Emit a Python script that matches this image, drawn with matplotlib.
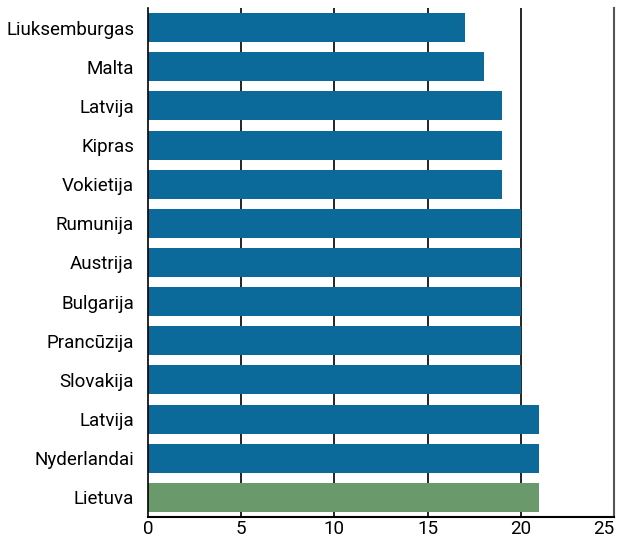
import matplotlib.pyplot as plt

# data, top to bottom
countries = ["Liuksemburgas", "Malta", "Latvija", "Kipras", "Vokietija",
             "Rumunija", "Austrija", "Bulgarija", "Prancūzija", "Slovakija",
             "Latvija", "Nyderlandai", "Lietuva"]
values = [17, 18, 19, 19, 19, 20, 20, 20, 20, 20, 21, 21, 21]
highlight = "Lietuva"

blue = "#0c6a9b"
green = "#6a9a6b"

plt.rcParams['font.family'] = ['Roboto', 'DejaVu Sans']

fig = plt.figure(figsize=(6.2, 5.41), dpi=100)
ax = fig.add_axes([0.2387, 0.0444, 0.7516, 0.9408])

pos = list(range(len(countries)))
colors = [green if c == highlight else blue for c in countries]
ax.barh(pos, values, height=0.74, color=colors, zorder=2)

ax.set_ylim(len(countries) - 0.5, -0.5)
ax.set_xlim(0, 25)
ax.set_xticks([0, 5, 10, 15, 20, 25])
ax.set_yticks(pos)
ax.set_yticklabels(countries)

# vertical grid lines
for x in [5, 10, 15, 20]:
    ax.axvline(x, color="black", lw=1.2, zorder=1)

ax.spines["top"].set_visible(False)
ax.spines["left"].set_linewidth(1.2)
ax.spines["bottom"].set_linewidth(1.5)
ax.spines["right"].set_color("#555555")
ax.spines["right"].set_linewidth(1.5)

ax.tick_params(axis="y", length=0, pad=10, labelsize=13.5)
ax.tick_params(axis="x", length=0, pad=2, labelsize=13.5)
ax.get_xticklabels()[-1].set_horizontalalignment("right")

fig.savefig("out.png", dpi=100)
